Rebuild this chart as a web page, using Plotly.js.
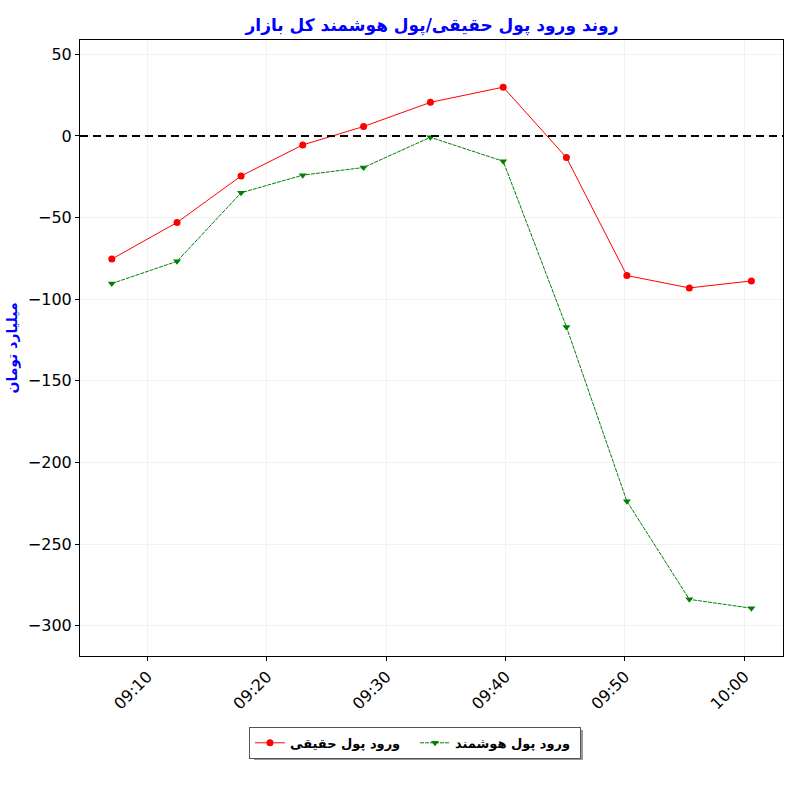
<!DOCTYPE html>
<html>
<head>
<meta charset="utf-8">
<script src="https://cdn.plot.ly/plotly-3.0.1.min.js"></script>
<style>html,body{margin:0;padding:0;background:#fff;}#chart{width:800px;height:800px;}</style>
</head>
<body>
<div id="chart"></div>
<script>
const times = ["2024-01-01 09:07:00","2024-01-01 09:12:28","2024-01-01 09:17:50","2024-01-01 09:23:00","2024-01-01 09:28:06","2024-01-01 09:33:42","2024-01-01 09:39:48","2024-01-01 09:45:06","2024-01-01 09:50:10","2024-01-01 09:55:24","2024-01-01 10:00:36"];
const realMoney = [-75.4, -53.0, -24.5, -5.5, 5.8, 20.6, 29.9, -13.2, -85.5, -93.1, -88.8];
const smartMoney = [-90.4, -76.8, -34.8, -24.0, -19.3, -0.8, -15.5, -117.0, -223.8, -283.9, -289.3];
const realName = "ورود پول حقیقی";
const smartName = "ورود پول هوشمند";
const titleText = "روند ورود پول حقیقی/پول هوشمند کل بازار";
const yTitle = "میلیارد تومان";
const zeroLevel = 0;

const traces = [
  {x: times, y: realMoney, name: realName, type: "scatter", mode: "lines+markers",
   line: {color: "#ff0000", width: 1}, marker: {symbol: "circle", size: 7, color: "#ff0000"}},
  {x: times, y: smartMoney, name: smartName, type: "scatter", mode: "lines+markers",
   line: {color: "#008000", width: 1, dash: "4px,1px"}, marker: {symbol: "triangle-down", size: 7, color: "#008000"}}
];

const layout = {
  width: 800, height: 800,
  margin: {l: 80, r: 17, t: 40, b: 144},
  paper_bgcolor: "#fff", plot_bgcolor: "#fff",
  font: {family: "DejaVu Sans, sans-serif", color: "#000"},
  title: {text: titleText, font: {size: 17, weight: "bold", color: "#0000ff", family: "DejaVu Sans"}, x: 0.54, xanchor: "center", y: 0.969, yanchor: "middle"},
  xaxis: {
    type: "date", range: ["2024-01-01 09:04:20", "2024-01-01 10:03:15"],
    tick0: "2024-01-01 09:10:00", dtick: 600000, tickformat: "%H:%M",
    tickangle: -45, tickfont: {size: 16}, ticks: "outside", ticklen: 4, tickcolor: "#000",
    showgrid: true, gridcolor: "#f2f2f2", gridwidth: 1,
    showline: true, linecolor: "#000", linewidth: 1, mirror: true, zeroline: false
  },
  yaxis: {
    range: [-318.6, 58.8], tick0: 0, dtick: 50,
    tickfont: {size: 16}, ticks: "outside", ticklen: 4, tickcolor: "#000",
    showgrid: true, gridcolor: "#f2f2f2", gridwidth: 1,
    showline: true, linecolor: "#000", linewidth: 1, mirror: true, zeroline: false,
    title: {text: yTitle, font: {size: 14, weight: "bold", color: "#0000ff"}, standoff: 6}
  },
  shapes: [
    {type: "line", xref: "paper", x0: 0, x1: 1, yref: "y", y0: zeroLevel, y1: zeroLevel,
     line: {color: "#000", width: 2, dash: "8px,5px"}, layer: "above"},
    {type: "rect", xref: "paper", yref: "paper", x0: 0.2475, x1: 0.7155, y0: -0.1688, y1: -0.1201,
     fillcolor: "#999999", line: {width: 0}, layer: "below"}
  ],
  showlegend: true,
  legend: {
    orientation: "h", x: 0.4765, xanchor: "center", y: -0.115, yanchor: "top",
    bgcolor: "#ffffff", bordercolor: "#555", borderwidth: 1,
    font: {size: 13, weight: "bold", color: "#000"}, itemwidth: 30,
    entrywidth: 120, entrywidthmode: "pixels", traceorder: "normal"
  }
};

Plotly.newPlot("chart", traces, layout, {displayModeBar: false, staticPlot: true});
</script>
</body>
</html>
